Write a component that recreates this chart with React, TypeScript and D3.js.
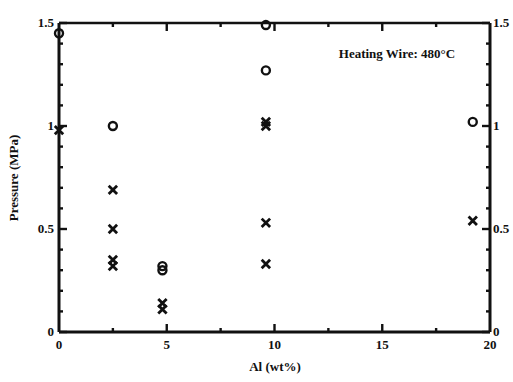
import React from "react";
import * as d3 from "d3";

const circleX = [0, 2.5, 4.8, 4.8, 9.6, 9.6, 19.2];
const circleY = [1.45, 1.0, 0.32, 0.30, 1.49, 1.27, 1.02];
const crossX = [0, 2.5, 2.5, 2.5, 2.5, 4.8, 4.8, 9.6, 9.6, 9.6, 9.6, 19.2];
const crossY = [0.98, 0.69, 0.5, 0.35, 0.32, 0.14, 0.11, 1.02, 1.0, 0.53, 0.33, 0.54];
const xTicks = [0, 5, 10, 15, 20];
const yTicks = [0, 0.5, 1, 1.5];
const yTickLabels = ["0", "0.5", "1", "1.5"];
const xMinor = [2.5, 7.5, 12.5, 17.5];
const yMinor = d3.range(0, 1.51, 0.1);

export default function App() {
  const W = 513, H = 382;
  const x = d3.scaleLinear().domain([0, 20]).range([59, 490]);
  const y = d3.scaleLinear().domain([0, 1.5]).range([332, 23]);
  const font = "'Liberation Serif', 'Times New Roman', serif";
  const col = "#111";
  return (
    <svg width={W} height={H} style={{ position: "absolute", left: 0, top: 0, background: "#fff" }}>
      <rect x={0} y={0} width={W} height={H} fill="#fff" />
      {/* frame */}
      <line x1={x(0)} x2={x(20)} y1={y(0)} y2={y(0)} stroke={col} strokeWidth={3} />
      <line x1={x(0)} x2={x(20)} y1={y(1.5)} y2={y(1.5)} stroke={col} strokeWidth={2.6} />
      <line x1={x(0)} x2={x(0)} y1={y(0)} y2={y(1.5)} stroke={col} strokeWidth={3} />
      <line x1={x(20)} x2={x(20)} y1={y(0)} y2={y(1.5)} stroke={col} strokeWidth={3} />
      {/* x ticks */}
      {xTicks.slice(1, -1).map((t) => (
        <g key={"xt" + t}>
          <line x1={x(t)} x2={x(t)} y1={y(0)} y2={y(0) - 8} stroke={col} strokeWidth={2.4} />
          <line x1={x(t)} x2={x(t)} y1={y(1.5)} y2={y(1.5) + 8} stroke={col} strokeWidth={2.4} />
        </g>
      ))}
      {xMinor.map((t) => (
        <g key={"xm" + t}>
          <line x1={x(t)} x2={x(t)} y1={y(0)} y2={y(0) - 4} stroke={col} strokeWidth={2.4} />
          <line x1={x(t)} x2={x(t)} y1={y(1.5)} y2={y(1.5) + 4} stroke={col} strokeWidth={2.4} />
        </g>
      ))}
      {/* y ticks */}
      {yMinor.map((t, i) => {
        const major = i % 5 === 0;
        const len = major ? 8 : 4;
        return (
          <g key={"ym" + i}>
            <line x1={x(0)} x2={x(0) + len} y1={y(t)} y2={y(t)} stroke={col} strokeWidth={2.4} />
            <line x1={x(20)} x2={x(20) - len} y1={y(t)} y2={y(t)} stroke={col} strokeWidth={2.4} />
          </g>
        );
      })}
      {/* tick labels */}
      {yTicks.map((t, i) => (
        <g key={"yl" + t}>
          <text x={x(0) - 5} y={y(t)} dy="0.3em" textAnchor="end" fontFamily={font} fontWeight="bold" fontSize={13} fill={col}>
            {yTickLabels[i]}
          </text>
          <text x={x(20) + 3} y={y(t)} dy="0.3em" textAnchor="start" fontFamily={font} fontWeight="bold" fontSize={13} fill={col}>
            {yTickLabels[i]}
          </text>
        </g>
      ))}
      {xTicks.map((t) => (
        <text key={"xl" + t} x={x(t)} y={y(0) + 17} textAnchor="middle" fontFamily={font} fontWeight="bold" fontSize={13} fill={col}>
          {t}
        </text>
      ))}
      {/* axis titles */}
      <text x={275} y={371} textAnchor="middle" fontFamily={font} fontWeight="bold" fontSize={13} fill={col}>
        Al (wt%)
      </text>
      <text transform={`translate(18,178) rotate(-90)`} textAnchor="middle" fontFamily={font} fontWeight="bold" fontSize={13} fill={col}>
        Pressure (MPa)
      </text>
      <text x={397} y={58} textAnchor="middle" fontFamily={font} fontWeight="bold" fontSize={13} fill={col}>
        Heating Wire: 480°C
      </text>
      {/* markers */}
      {circleX.map((cx, i) => (
        <circle key={"c" + i} cx={x(cx)} cy={y(circleY[i])} r={4} fill="none" stroke={col} strokeWidth={2.4} />
      ))}
      {crossX.map((cx, i) => {
        const px = x(cx), py = y(crossY[i]), s = 4.2;
        return (
          <path key={"x" + i} d={`M${px - s},${py - s}L${px + s},${py + s}M${px - s},${py + s}L${px + s},${py - s}`} stroke={col} strokeWidth={2.8} fill="none" />
        );
      })}
    </svg>
  );
}
